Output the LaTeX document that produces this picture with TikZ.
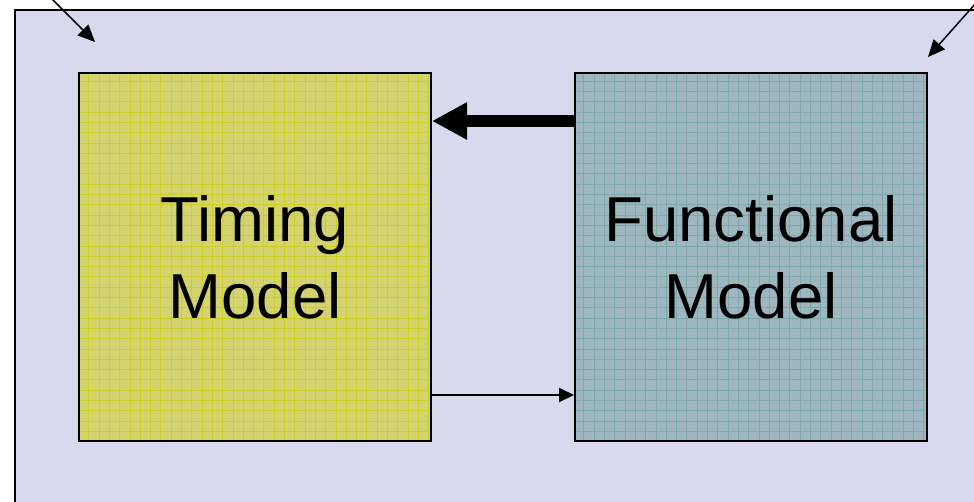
\documentclass[tikz,border=0pt]{standalone}
\usepackage{fontspec}
\setmainfont{Liberation Sans}
\usetikzlibrary{positioning, arrows.meta}

\definecolor{panelbg}{HTML}{D8D9EC}
\definecolor{timingbg}{HTML}{D3D470}
\definecolor{timinggrid}{HTML}{CDCD28}
\definecolor{funcbg}{HTML}{9EB6BD}
\definecolor{funcgrid}{HTML}{7EA7A9}

\tikzset{
  model/.style={draw, line width=2pt, minimum width=352pt, minimum height=368pt,
                align=center, inner sep=0pt, font=\fontsize{63.5}{77}\selectfont},
  gridfill/.style={fill=#1bg, path picture={
      \draw[#1grid, line width=1pt, step=10.3pt]
        (path picture bounding box.south west) grid (path picture bounding box.north east);}},
  bigarrow/.style={-{Triangle[length=35pt, width=35pt]}, line width=12pt},
  smallarrow/.style={-{Triangle[length=15pt, width=14pt]}, line width=2pt},
  cornerarrow/.style={-{Triangle[length=17pt, width=15pt]}, line width=1.5pt}
}

\begin{document}
\begin{tikzpicture}[x=1pt, y=-1pt]
  \useasboundingbox (0,0) rectangle (974,502);
  \clip (0,0) rectangle (974,502);

  % outer panel, runs off the right and bottom
  \draw[fill=panelbg, line width=2pt] (15,10) rectangle (1000,530);

  \node[model, gridfill=timing] (timing) at (255,257) {Timing\\Model};
  \node[model, gridfill=func, right=142pt of timing] (func) {Functional\\Model};

  \draw[bigarrow] ([yshift=-49pt]func.north west) -- ([yshift=-49pt]timing.north east);
  \draw[smallarrow] ([yshift=47pt]timing.south east) -- ([yshift=47pt]func.south west);

  % pointers into the panel corners
  \coordinate (tlfrom) at (47,-6);
  \coordinate (tlto) at (95,42);
  \coordinate (trfrom) at (976,3);
  \coordinate (trto) at (928,57);
  \draw[cornerarrow] (tlfrom) -- (tlto);
  \draw[cornerarrow] (trfrom) -- (trto);
\end{tikzpicture}
\end{document}
